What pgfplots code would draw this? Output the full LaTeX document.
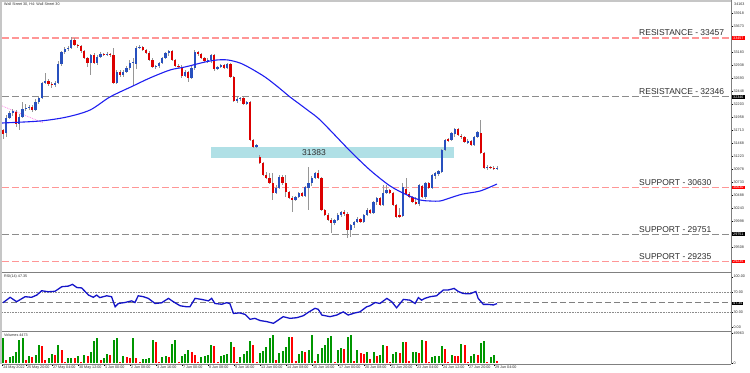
\documentclass[border=0pt]{standalone}
\usepackage{pgfplots}
\pgfplotsset{compat=1.18}
\usepackage{pgfplotstable}
\usepackage{fontspec}
\setmainfont{Liberation Sans}
\definecolor{upc}{RGB}{40,80,190}
\definecolor{dnc}{RGB}{220,0,0}
\definecolor{wick}{RGB}{150,150,150}
\definecolor{resred}{RGB}{255,150,150}
\definecolor{lvlgray}{RGB}{140,140,140}
\definecolor{powder}{RGB}{176,224,230}
\definecolor{maline}{RGB}{30,30,240}
\definecolor{rsiline}{RGB}{20,20,200}
\definecolor{volg}{RGB}{0,150,0}
\definecolor{volr}{RGB}{255,0,0}
\definecolor{sep}{RGB}{128,128,128}
\definecolor{txt}{RGB}{45,45,45}
\definecolor{pinkl}{RGB}{255,130,230}
\newcommand\tinyf{\fontsize{3.7bp}{4bp}\selectfont}
\newcommand\lblf{\fontsize{8.5bp}{10bp}\selectfont}

\pgfplotstableread{
i o h l c
0 31718 31737 31548 31642
1 31661 32002 31586 31945
2 31945 32077 31926 32039
3 32039 32115 31983 32077
4 32058 32096 31775 31831
5 31831 32020 31718 31964
6 31964 32247 31945 32115
7 32115 32209 32077 32134
8 32134 32191 32096 32153
9 32153 32191 32058 32096
10 32096 32304 32077 32247
11 32247 32361 32209 32323
12 32323 32625 32304 32606
13 32606 32795 32587 32644
14 32644 32682 32550 32587
15 32587 32625 32512 32569
16 32569 32644 32531 32606
17 32606 33022 32587 32965
18 32965 33211 32928 33192
19 33192 33287 33154 33249
20 33249 33306 33211 33268
21 33268 33476 33249 33419
22 33419 33457 33306 33325
23 33325 33343 33268 33306
24 33306 33325 33173 33211
25 33211 33230 33060 33079
26 33079 33098 32909 32984
27 32984 33154 32758 33136
28 33136 33173 32965 32984
29 32984 33136 32947 33098
30 33098 33192 33079 33154
31 33154 33173 33117 33136
32 33136 33192 33117 33154
33 33154 33173 33098 33136
34 33136 33268 32587 32606
35 32606 32852 32587 32814
36 32814 32852 32720 32758
37 32758 32852 32720 32814
38 32814 32928 32795 32890
39 32890 33041 32852 32984
40 32984 33079 32569 33003
41 32965 33306 32871 33268
42 33268 33325 33249 33287
43 33287 33306 33211 33230
44 33230 33249 33154 33173
45 33173 33211 33022 33041
46 33041 33079 32890 32909
47 32909 32947 32871 32928
48 32928 33003 32890 32984
49 32984 33098 32965 33079
50 33079 33192 33060 33173
51 33173 33230 33117 33211
52 33211 33230 33022 33041
53 33041 33060 32909 32928
54 32928 32965 32890 32909
55 32909 32947 32701 32739
56 32739 32852 32720 32814
57 32814 32833 32625 32701
58 32701 32928 32682 32890
59 32890 33230 32852 33192
60 33192 33211 33117 33154
61 33154 33173 33060 33079
62 33079 33098 33003 33022
63 33022 33079 32984 33041
64 33041 33154 32984 33136
65 33136 33154 32833 32871
66 32871 32928 32852 32909
67 32909 32965 32890 32947
68 32947 32965 32871 32890
69 32890 32984 32871 32965
70 32965 32984 32701 32720
71 32720 32739 32247 32266
72 32266 32342 32228 32304
73 32304 32342 32266 32323
74 32323 32342 32191 32209
75 32209 32266 32191 32247
76 32247 32266 31510 31529
77 31529 31548 31378 31397
78 31397 31453 31378 31435
79 31208 31246 31075 31094
80 31094 31113 30849 30868
81 30868 30924 30792 30811
82 30811 30905 30697 30716
83 30716 30905 30395 30527
84 30527 30679 30508 30622
85 30622 30868 30603 30830
86 30830 30868 30679 30716
87 30716 30868 30452 30546
88 30546 30565 30414 30433
89 30433 30471 30168 30395
90 30395 30471 30376 30452
91 30452 30546 30433 30527
92 30527 30546 30452 30471
93 30471 30660 30452 30641
94 30622 31019 30206 30716
95 30716 30849 30660 30811
96 30811 30924 30792 30905
97 30905 30962 30792 30811
98 30811 30830 30187 30206
99 30206 30225 30093 30112
100 30112 30149 29998 30017
101 30017 30055 29771 29960
102 29960 30036 29923 30017
103 30017 30149 29998 30112
104 30112 30187 30074 30168
105 30168 30206 30093 30130
106 30130 30168 29677 29828
107 29828 29941 29696 29923
108 29923 29998 29866 29979
109 29979 30074 29960 30036
110 30036 30055 29960 29979
111 29979 30130 29960 30112
112 30112 30244 30093 30206
113 30206 30225 30130 30149
114 30149 30376 30130 30357
115 30357 30452 30301 30433
116 30433 30452 30282 30301
117 30301 30679 30282 30527
118 30527 30679 30508 30584
119 30584 30603 30508 30527
120 30527 30546 30282 30301
121 30301 30319 30055 30074
122 30112 30244 30055 30074
123 30093 30716 30074 30641
124 30603 30811 30490 30508
125 30508 30546 30433 30452
126 30452 30471 30338 30357
127 30357 30452 30301 30338
128 30319 30697 30282 30679
129 30660 30679 30433 30452
130 30452 30735 30414 30716
131 30716 30735 30603 30622
132 30622 30886 30603 30868
133 30849 30924 30792 30905
134 30886 30962 30849 30943
135 30924 31359 30905 31340
136 31340 31548 31321 31529
137 31548 31567 31491 31510
138 31529 31680 31510 31661
139 31642 31756 31586 31737
140 31737 31756 31605 31624
141 31605 31642 31548 31586
142 31586 31605 31472 31491
143 31491 31548 31453 31510
144 31510 31529 31416 31435
145 31435 31605 31416 31586
146 31586 31699 31567 31680
147 31661 31907 31264 31283
148 31283 31302 30981 31000
149 31000 31057 30962 31019
150 31019 31038 30981 31000
151 31000 31038 30962 30981
152 30981 31038 30962 31000
}\candles

\pgfplotstableread{
i p
-0.3 31850
11.4 31888
19.7 31964
26.8 32096
32.9 32342
40 32550
45.2 32701
51.4 32852
56 32909
62.2 33003
65.8 33041
69.2 33041
72.9 32984
76 32890
80.6 32720
84.6 32531
88.3 32342
90.8 32228
94.5 32058
96.9 31945
100.6 31718
106.8 31321
112.9 30962
119.1 30660
124.3 30490
128.3 30395
131.4 30376
134.5 30376
137.5 30433
141.5 30508
146.8 30565
152 30697
}\ma

\pgfplotstableread{
i r
0 49
2.2 59.6
4.2 51
6.8 60.8
8.8 59.6
10.4 64
11.9 72.5
13.9 70.5
16 71.4
18.1 80.4
20.1 81.6
21.4 85
22.7 78.8
24.2 78
26.3 64
27.8 59.6
28.8 64
29.8 59
31.9 62.6
33.4 60.8
34.5 41
35.5 47.5
37.5 49.4
39.6 52.6
40.6 49.4
41.6 62.6
43.2 60.8
44.7 57.5
46.8 47.5
48.8 48.8
50.9 57.5
52.4 51
54.5 43
56.5 41
57.5 41
59.1 57.5
61.1 55.5
63.2 52.6
64.2 57.5
65.2 47.5
67.3 46
68.8 49
69.8 47.5
70.9 28
72.9 29
74.5 26
76 16.4
77.5 18.3
79.1 14
81.1 12
83.2 8.6
84.7 15
86.2 21.6
88.3 18.3
90.4 19.6
92.4 23.5
93.9 30
96 38
97 36
98.1 24.8
100.6 21.6
102.7 24.8
104.7 31
106.2 24.8
108.3 29
109.8 31
111.9 41
112.9 43
114.5 49.4
116 47.5
118.1 57.5
119.6 51
121.1 39
123.2 55.5
125.2 54
126.8 47.5
127.8 59
128.8 54
129.8 57.5
131.4 60.8
133.4 62.6
135.5 74
137 74
138.8 77
140.1 71
141.6 67
143.7 66.5
145.5 71
146.2 57.5
147.8 45.7
149.3 45.7
150.9 44.6
152 47.35
}\rsi

\pgfplotstableread{
i v u
0 43120 1
1 5600 0
2 11200 1
3 12880 1
4 18480 1
5 39200 1
6 43120 1
7 5600 0
8 12880 1
9 11200 0
10 14000 1
11 30800 1
12 29680 0
13 5600 0
14 9520 1
15 15120 1
16 14000 0
17 30800 1
18 22400 0
19 2800 0
20 8400 1
21 9520 1
22 8400 0
23 12880 1
24 2800 0
25 14000 1
26 12880 0
27 18480 1
28 37520 1
29 42000 1
30 5600 0
31 9520 1
32 15120 1
33 14000 0
34 39200 1
35 42000 1
36 2800 0
37 12880 1
38 11200 0
39 9520 0
40 42000 1
41 8400 0
42 2800 0
43 6720 1
44 7840 1
45 9520 1
46 39200 1
47 36400 0
48 1680 0
49 11200 1
50 12320 1
51 11200 0
52 31920 1
53 39200 1
54 2800 0
55 12880 1
56 16240 1
57 21840 1
58 18480 0
59 14000 0
60 2800 0
61 11200 1
62 12880 1
63 14000 1
64 30800 1
65 29680 0
66 2800 0
67 12880 1
68 14000 1
69 15120 1
70 36400 1
71 28000 0
72 2800 0
73 11200 1
74 15120 1
75 20720 1
76 37520 1
77 30800 0
78 2800 0
79 16800 1
80 20720 1
81 28000 1
82 43120 1
83 47600 1
84 5600 0
85 16800 1
86 20720 1
87 28000 1
88 44800 1
89 44240 0
90 3920 0
91 15120 1
92 20720 1
93 18480 0
94 22400 1
95 47600 1
96 3920 0
97 15120 1
98 25200 1
99 30800 1
100 43120 1
101 46480 1
102 2800 0
103 22400 1
104 25200 1
105 24080 0
106 44800 1
107 47600 1
108 3920 0
109 22400 1
110 16800 0
111 15120 0
112 18480 1
113 7280 0
114 18480 1
115 12880 0
116 14000 1
117 30800 1
118 29680 0
119 2800 0
120 15120 1
121 18480 1
122 16800 0
123 36400 1
124 35280 0
125 3920 0
126 18480 1
127 19040 1
128 16800 0
129 39200 1
130 37520 0
131 2800 0
132 11200 1
133 11760 1
134 12320 1
135 29120 1
136 24080 0
137 1680 0
138 14000 1
139 12320 0
140 11760 0
141 31920 1
142 30800 0
143 2800 0
144 12880 1
145 15680 1
146 14000 0
147 33600 1
148 37520 1
149 2800 0
150 11200 1
151 14000 1
152 4473 0
}\vols

\pgfplotsset{
 panel/.style={scale only axis, width=729bp, xmin=-0.31, xmax=224,
   anchor=north west, axis line style={draw=none}, xtick=\empty,
   scaled y ticks=false, scaled x ticks=false,
   ytick pos=right, yticklabel pos=right, ytick align=outside,
   major tick length=1.8bp, tick style={draw=black, line width=0.4bp},
   yticklabel style={font=\tinyf, inner sep=0.6bp, anchor=west, text=txt},
   clip=true},
}

\begin{document}
\begin{tikzpicture}[x=1bp,y=1bp]
\useasboundingbox (0,0) rectangle (750,372);

% ---------------- main price panel ----------------
\begin{axis}[panel, at={(2bp,370bp)}, height=270bp, ymin=29034, ymax=34137,
  ytick={29508,29998,30243,30488,30733,30978,31223,31468,31713,31958,32203,32448,32693,32938,33183,33673,33918},
  yticklabels={29508,29998,30243,30488,30733,30978,31223,31468,31713,31958,32203,32448,32693,32938,33183,33673,33918}]
\addplot[draw=none, fill=powder] coordinates {(64,31189) (138.8,31189) (138.8,31397) (64,31397)} -- cycle;
\addplot[resred, line width=1.2bp, dash pattern=on 7bp off 3bp] coordinates {(-0.31,33457) (224,33457)};
\addplot[lvlgray, line width=1bp, dash pattern=on 7bp off 3bp] coordinates {(-0.31,32346) (224,32346)};
\addplot[resred, line width=1.2bp, dash pattern=on 7bp off 3bp] coordinates {(-0.31,30630) (224,30630)};
\addplot[lvlgray, line width=1bp, dash pattern=on 7bp off 3bp] coordinates {(-0.31,29751) (224,29751)};
\addplot[resred, line width=1.2bp, dash pattern=on 7bp off 3bp] coordinates {(-0.31,29235) (224,29235)};
\addplot[pinkl, densely dotted, line width=0.8bp] coordinates {(-0.31,32172) (12.3,31855)};
% wicks
\addplot[draw=none, mark=none, forget plot,
  error bars/.cd, y dir=both, y explicit, error mark=none,
  error bar style={draw=wick, line width=0.7bp}]
  table[x=i, y expr={(\thisrow{h}+\thisrow{l})/2}, y error expr={(\thisrow{h}-\thisrow{l})/2}] {\candles};
% up bodies
\addplot[draw=none, mark=none, forget plot,
  restrict expr to domain={\thisrow{c}-\thisrow{o}}{0.5:100000},
  error bars/.cd, y dir=both, y explicit, error mark=none,
  error bar style={draw=upc, line width=2.2bp}]
  table[x=i, y expr={(\thisrow{o}+\thisrow{c})/2}, y error expr={max(abs(\thisrow{c}-\thisrow{o})/2,9)}] {\candles};
% down bodies
\addplot[draw=none, mark=none, forget plot,
  restrict expr to domain={\thisrow{c}-\thisrow{o}}{-100000:-0.5},
  error bars/.cd, y dir=both, y explicit, error mark=none,
  error bar style={draw=dnc, line width=2.2bp}]
  table[x=i, y expr={(\thisrow{o}+\thisrow{c})/2}, y error expr={max(abs(\thisrow{c}-\thisrow{o})/2,9)}] {\candles};
\addplot[maline, line width=1.1bp, smooth] table[x=i, y=p] {\ma};
\node[font=\lblf, text=txt, anchor=base west, inner sep=0pt] at (axis cs:195.7,33457) [yshift=2bp] {RESISTANCE - 33457};
\node[font=\lblf, text=txt, anchor=base west, inner sep=0pt] at (axis cs:195.7,32346) [yshift=2bp] {RESISTANCE - 32346};
\node[font=\lblf, text=txt, anchor=base west, inner sep=0pt] at (axis cs:195.7,30630) [yshift=2bp] {SUPPORT - 30630};
\node[font=\lblf, text=txt, anchor=base west, inner sep=0pt] at (axis cs:195.7,29751) [yshift=2bp] {SUPPORT - 29751};
\node[font=\lblf, text=txt, anchor=base west, inner sep=0pt] at (axis cs:195.7,29235) [yshift=2bp] {SUPPORT - 29235};
\node[font=\lblf, text=txt, anchor=center, inner sep=0pt] at (axis cs:95.7,31293) {31383};
\coordinate (b1) at (axis cs:224,33457);
\coordinate (b2) at (axis cs:224,32346);
\coordinate (b3) at (axis cs:224,30630);
\coordinate (b4) at (axis cs:224,29751);
\coordinate (b5) at (axis cs:224,29235);
\coordinate (topc) at (axis cs:224,34137);
\end{axis}

% ---------------- RSI panel ----------------
\begin{axis}[panel, at={(2bp,98.5bp)}, height=57.5bp, ymin=-6.5, ymax=106.3,
  ytick={0,30,70,100}, yticklabels={0.00,30.00,70.00,100.00}]
\addplot[lvlgray, densely dotted, line width=0.6bp] coordinates {(-0.31,70) (224,70)};
\addplot[lvlgray, densely dotted, line width=0.6bp] coordinates {(-0.31,30) (224,30)};
\addplot[gray, line width=0.8bp, dash pattern=on 6bp off 3bp] coordinates {(-0.31,50) (224,50)};
\addplot[rsiline, line width=1.3bp] table[x=i, y=r] {\rsi};
\coordinate (rv) at (axis cs:224,47.35);
\end{axis}

% ---------------- Volume panel ----------------
\begin{axis}[panel, at={(2bp,40bp)}, height=32bp, ymin=-1120, ymax=52640,
  ytick={0,49963}, yticklabels={0,49963},
  xtick={-0.3,7,15,23,31,39,47,55,63,71,79,87,95,103,111,119,127,135,143,151},
  xticklabels={24 May 2022,25 May 20:00,27 May 04:00,30 May 12:00,1 Jun 00:00,2 Jun 08:00,3 Jun 16:00,7 Jun 00:00,8 Jun 08:00,9 Jun 16:00,13 Jun 00:00,14 Jun 08:00,15 Jun 16:00,17 Jun 00:00,20 Jun 08:00,21 Jun 20:00,23 Jun 04:00,24 Jun 12:00,27 Jun 20:00,29 Jun 04:00},
  xtick pos=bottom, xtick align=outside,
  xticklabel style={font=\tinyf, anchor=north west, inner sep=0.3bp, xshift=0.8bp, text=txt}]
\addplot[ycomb, volg, line width=2bp, mark=none, restrict expr to domain={\thisrow{u}}{0.5:1.5}] table[x=i, y=v] {\vols};
\addplot[ycomb, volr, line width=2bp, mark=none, restrict expr to domain={\thisrow{u}}{-0.5:0.5}] table[x=i, y=v] {\vols};
\end{axis}

% ---------------- frame and separators ----------------
\fill[gray!45] (0,8) rectangle (2,372);
\fill[gray!45] (0,370) rectangle (731,372);
\draw[sep, line width=1.2bp] (2,99.5) -- (731,99.5);
\draw[sep, line width=1.2bp] (2,40.8) -- (731,40.8);
\draw[sep, line width=1bp] (2,8) -- (731,8);
\draw[sep, line width=0.8bp] (731,8) -- (731,372);

% ---------------- price boxes ----------------
\foreach \c/\t/\f in {b1/33457/red, b2/32346/black, b3/30630/red, b4/29751/black, b5/29235/red}{
  \node[fill=\f, text=white, font=\tinyf, inner xsep=1bp, inner ysep=0.5bp, anchor=west] at ([xshift=1bp]\c) {\t};
}
\node[fill=black, text=white, font=\tinyf, inner xsep=1bp, inner ysep=0.5bp, anchor=west] at ([xshift=1bp]rv) {47.35};
\node[font=\tinyf, anchor=north west, inner sep=0.6bp, text=txt] at ([xshift=2.4bp]topc) {34163};

% ---------------- panel captions ----------------
\node[font=\tinyf, anchor=north west, inner sep=0pt, text=txt] at (4,369) {Wall Street 30, H4:  Wall Street 30};
\node[font=\tinyf, anchor=north west, inner sep=0pt, text=txt] at (4,97) {RSI(14) 47.35};
\node[font=\tinyf, anchor=north west, inner sep=0pt, text=txt] at (4,38.6) {Volumes 4473};
\end{tikzpicture}
\end{document}
